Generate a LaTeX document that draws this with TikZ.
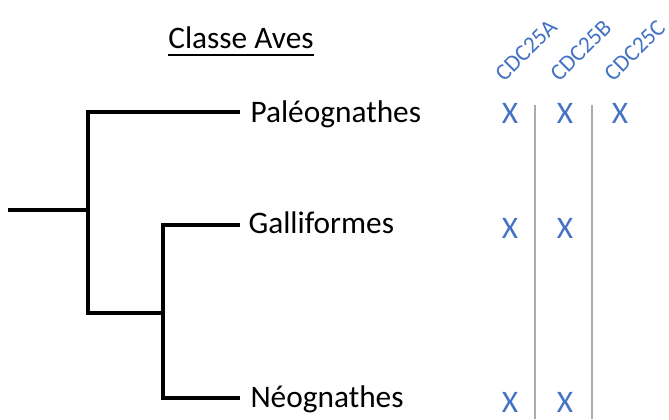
\documentclass[tikz,border=0pt]{standalone}
\usepackage{fontspec}
\setmainfont{Carlito}

\definecolor{genblue}{RGB}{68,114,196}
\definecolor{sepgray}{RGB}{165,172,180}

\tikzset{every picture/.style={line width=0.75pt}}
\tikzset{
  branch/.style={line width=2.4pt, line cap=rect},
  taxon/.style={anchor=base west, inner sep=0pt, font=\fontsize{23.5}{28}\selectfont},
  gene/.style={anchor=base west, rotate=45, inner sep=0pt, text=genblue, font=\fontsize{17.5}{21}\selectfont},
  hit/.style={anchor=base, inner sep=0pt, text=genblue, font=\fontsize{23.5}{28}\selectfont},
  sepline/.style={color=sepgray, line width=0.9pt}
}

\begin{document}
\begin{tikzpicture}[x=0.75pt,y=0.75pt,yscale=-1,xscale=1]
\path [use as bounding box] (0,0) rectangle (669,419);

% Title
\node (title) [taxon, anchor=base] at (241,48) {Classe Aves};
\draw [line width=1.5pt] ([yshift=5.2pt]title.base west) -- ([yshift=5.2pt]title.base east);

%Tree coordinates
\coordinate (root) at (10,210);
\coordinate (j1) at (88,210);
\coordinate (j2) at (163,313);
\coordinate (endP) at (238,112);
\coordinate (endG) at (238,225);
\coordinate (endN) at (238,398);

%Tree branches
\draw [branch] (root) -- (j1);
\draw [branch] (endP) -| (j1) |- (j2);
\draw [branch] (endG) -| (j2) |- (endN);

% Text Node
\node (paleo) [taxon] at (250,122) {Paléognathes};
% Text Node
\node (galli) [taxon] at (248,233) {Galliformes};
% Text Node
\node (neo) [taxon] at (250,407) {Néognathes};

% Gene headers
\node (cdcA) [gene] at (504,83) {CDC25A};
\node (cdcB) [gene] at (559,83) {CDC25B};
\node (cdcC) [gene] at (613,83) {CDC25C};

%Separators
\draw [sepline] (535,105) -- (535,419);
\draw [sepline] (592,105) -- (592,419);

% Presence marks
\node (xPa) [hit] at (510,123) {X};
\node (xPb) [hit] at (565,123) {X};
\node (xPc) [hit] at (620,123) {X};
\node (xGa) [hit] at (510,238) {X};
\node (xGb) [hit] at (565,238) {X};
\node (xNa) [hit] at (510,412) {X};
\node (xNb) [hit] at (565,412) {X};

\end{tikzpicture}
\end{document}
